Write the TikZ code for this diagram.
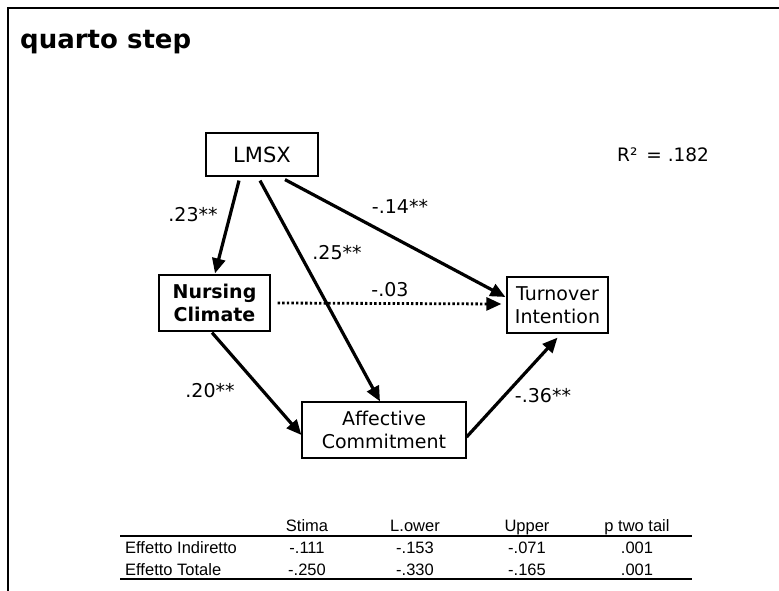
\documentclass[tikz,border=0pt]{standalone}
\usepackage{fontspec}
\setmainfont{DejaVu Sans}
\newfontfamily\tabfont{Liberation Sans}
\usetikzlibrary{arrows.meta,calc}

\begin{document}
\begin{tikzpicture}[x=1pt,y=-1pt,
  box/.style={draw,line width=1.2pt,align=center,inner sep=0pt,font=\fontsize{19}{23}\selectfont},
  boldbox/.style={box,font=\bfseries\fontsize{19}{23}\selectfont},
  pathline/.style={line width=3.2pt,-{Triangle[length=15pt,width=13pt]}},
  dotline/.style={line width=2.8pt,dash pattern=on 2.4pt off 2.2pt,-{Triangle[length=15pt,width=13pt]}},
  coef/.style={inner sep=0pt,font=\fontsize{19}{23}\selectfont},
  tab/.style={inner sep=0pt,anchor=base,font=\tabfont\fontsize{16.5}{20}\selectfont},
  tabrow/.style={tab,anchor=base west},
]
\useasboundingbox (0,0) rectangle (779,591);
\fill[white] (0,0) rectangle (779,591);

% slide frame (top and left edges only)
\draw[line width=1.8pt] (779,8) -- (8,8) -- (8,591);

% title
\node[anchor=base west,inner sep=0pt,font=\bfseries\fontsize{26}{30}\selectfont] (title) at (20,49) {quarto step};

% model variables
\node[box,font=\fontsize{21}{25}\selectfont,minimum width=112pt,minimum height=43pt] (lmsx) at (262,154.5) {LMSX};
\node[boldbox,minimum width=111pt,minimum height=56pt] (nc) at (214.5,303) {Nursing\\Climate};
\node[box,minimum width=101pt,minimum height=56pt] (ti) at (557.5,305) {Turnover\\Intention};
\node[box,minimum width=164pt,minimum height=56pt] (ac) at (384,430) {Affective\\Commitment};

% paths
\draw[pathline] ($(lmsx.south)+(-23,4)$) -- ($(nc.north)+(0.5,-1)$);
\draw[pathline] ($(lmsx.south)+(-2,4)$) -- ($(ac.north)+(-4,0)$);
\draw[pathline] ($(lmsx.south)+(23,3)$) -- ($(ti.west)+(-1,-8)$);
\draw[dotline] ($(nc.east)+(7,0)$) -- ($(ti.west)+(-5,-1)$);
\draw[pathline] ($(nc.south)+(-2.5,1)$) -- ($(ac.west)+(0,5)$);
\draw[pathline] ($(ac.east)+(0,7)$) -- ($(ti.south)+(0,4)$);

% path coefficients
\node[coef] (c1) at (193,215) {.23**};
\node[coef] (c2) at (400,206) {-.14**};
\node[coef] (c3) at (337,253) {.25**};
\node[coef] (c4) at (390,290) {-.03};
\node[coef] (c5) at (210,391) {.20**};
\node[coef] (c6) at (543,396) {-.36**};

% explained variance
\node[coef,anchor=west,font=\fontsize{18.5}{22}\selectfont] (rsq) at (617,155) {R² \,= .182};

% effects table
\node[tab] (hs) at (307,531) {Stima};
\node[tab] (hl) at (415,531) {L.ower};
\node[tab] (hu) at (527,531) {Upper};
\node[tab] (hp) at (637,531) {p two tail};
\draw[line width=1.3pt] (120,536) -- (692,536);
\node[tabrow] (r1) at (125,553) {Effetto Indiretto};
\node[tab] (r1s) at (307,553) {-.111};
\node[tab] (r1l) at (415,553) {-.153};
\node[tab] (r1u) at (527,553) {-.071};
\node[tab] (r1p) at (637,553) {.001};
\node[tabrow] (r2) at (125,575) {Effetto Totale};
\node[tab] (r2s) at (307,575) {-.250};
\node[tab] (r2l) at (415,575) {-.330};
\node[tab] (r2u) at (527,575) {-.165};
\node[tab] (r2p) at (637,575) {.001};
\draw[line width=1.8pt] (120,579) -- (692,579);
\end{tikzpicture}
\end{document}
